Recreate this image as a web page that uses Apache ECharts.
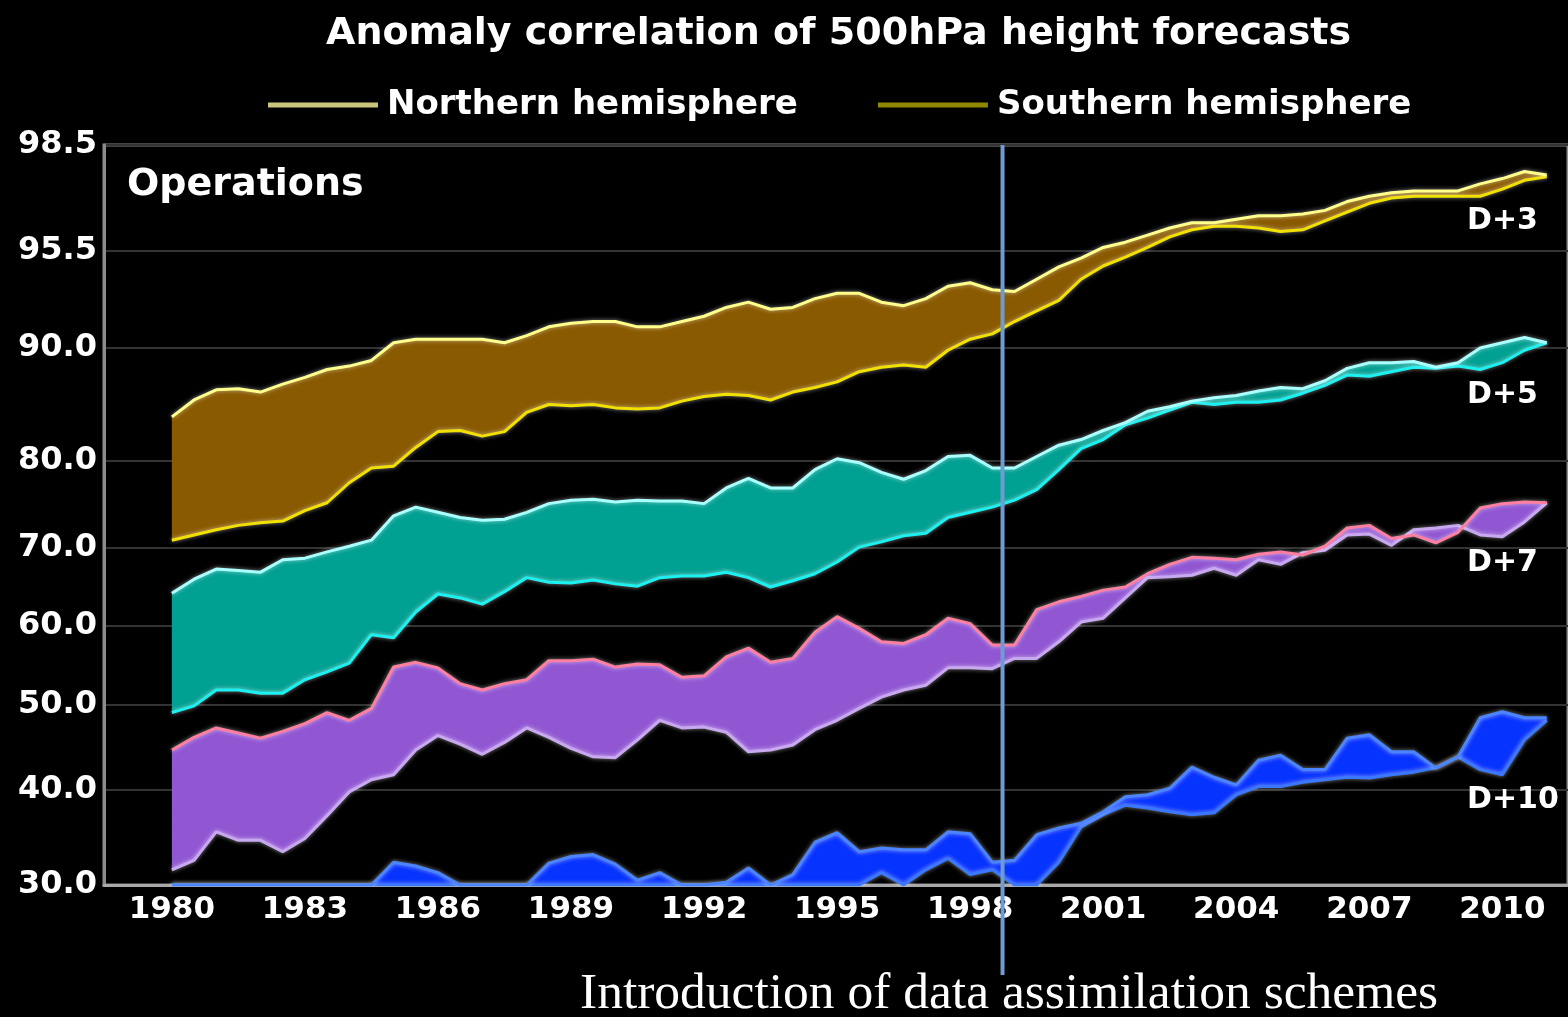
<!DOCTYPE html>
<html>
<head>
<meta charset="utf-8">
<title>Anomaly correlation of 500hPa height forecasts</title>
<script src="https://cdn.jsdelivr.net/npm/echarts@6/dist/echarts.min.js"></script>
<style>
  html, body { margin: 0; padding: 0; background: #000; }
  #chart { width: 1568px; height: 1017px; }
</style>
</head>
<body>
<div id="chart"></div>
<script>
// Sampling dates (half-year steps) for every curve
const YEARS = [
  1980.0, 1980.5, 1981.0, 1981.5, 1982.0, 1982.5, 1983.0, 1983.5, 1984.0, 1984.5,
  1985.0, 1985.5, 1986.0, 1986.5, 1987.0, 1987.5, 1988.0, 1988.5, 1989.0, 1989.5,
  1990.0, 1990.5, 1991.0, 1991.5, 1992.0, 1992.5, 1993.0, 1993.5, 1994.0, 1994.5,
  1995.0, 1995.5, 1996.0, 1996.5, 1997.0, 1997.5, 1998.0, 1998.5, 1999.0, 1999.5,
  2000.0, 2000.5, 2001.0, 2001.5, 2002.0, 2002.5, 2003.0, 2003.5, 2004.0, 2004.5,
  2005.0, 2005.5, 2006.0, 2006.5, 2007.0, 2007.5, 2008.0, 2008.5, 2009.0, 2009.5,
  2010.0, 2010.5, 2011.0
];

// Vertical axis: labelled values and where they sit on the stretched scale
const TICK_VALUES = [30, 40, 50, 60, 70, 80, 90, 95.5, 98.5];
const TICK_LABELS = ['30.0', '40.0', '50.0', '60.0', '70.0', '80.0', '90.0', '95.5', '98.5'];
const SCALE_STOPS = [0, 95, 180, 259, 337, 424, 537, 634, 740];

const X_LABELS = [1980, 1983, 1986, 1989, 1992, 1995, 1998, 2001, 2004, 2007, 2010];
const INTRO_YEAR = 1998.73;

// Anomaly correlation (%) — day 3
const D3_NH = [
  83.9, 85.4, 86.3, 86.4, 86.1, 86.8, 87.4, 88.1, 88.4, 88.9,
  90.3, 90.5, 90.5, 90.5, 90.5, 90.3, 90.7, 91.2, 91.4, 91.5,
  91.5, 91.2, 91.2, 91.5, 91.8, 92.3, 92.6, 92.2, 92.3, 92.8,
  93.1, 93.1, 92.6, 92.4, 92.8, 93.5, 93.7, 93.3, 93.2, 93.9,
  94.6, 95.1, 95.6, 95.75, 95.95, 96.15, 96.3, 96.3, 96.4, 96.5,
  96.5, 96.55, 96.65, 96.9, 97.05, 97.15, 97.2, 97.2, 97.2, 97.4,
  97.55, 97.75, 97.65
];
const D3_SH = [
  70.9, 71.5, 72.1, 72.6, 72.9, 73.1, 74.3, 75.2, 77.5, 79.2,
  79.4, 81.2, 82.6, 82.7, 82.2, 82.6, 84.3, 85.0, 84.9, 85.0,
  84.7, 84.6, 84.7, 85.3, 85.7, 85.9, 85.8, 85.4, 86.1, 86.5,
  87.0, 87.9, 88.3, 88.5, 88.3, 89.8, 90.5, 90.8, 91.5, 92.1,
  92.7, 93.9, 94.65, 95.15, 95.6, 95.9, 96.1, 96.2, 96.2, 96.15,
  96.05, 96.1, 96.35, 96.6, 96.85, 97.0, 97.05, 97.05, 97.05, 97.05,
  97.25, 97.5, 97.6
];

// Day 5
const D5_NH = [
  64.2, 66.0, 67.3, 67.1, 66.9, 68.5, 68.7, 69.5, 70.2, 70.9,
  73.7, 74.7, 74.1, 73.5, 73.2, 73.3, 74.1, 75.1, 75.5, 75.6,
  75.3, 75.5, 75.4, 75.4, 75.1, 76.9, 78.0, 76.9, 76.9, 79.0,
  80.2, 79.8, 78.7, 77.9, 78.9, 80.4, 80.5, 79.2, 79.2, 80.4,
  81.4, 81.9, 82.7, 83.4, 84.4, 84.8, 85.3, 85.6, 85.8, 86.2,
  86.5, 86.4, 87.1, 88.2, 88.7, 88.7, 88.8, 88.3, 88.7, 90.0,
  90.3, 90.6, 90.3
];
const D5_SH = [
  49.1, 49.9, 51.9, 51.9, 51.5, 51.5, 53.2, 54.2, 55.3, 58.9,
  58.5, 61.8, 64.1, 63.6, 62.8, 64.4, 66.2, 65.6, 65.5, 65.9,
  65.4, 65.1, 66.2, 66.4, 66.4, 66.9, 66.2, 65.0, 65.8, 66.7,
  68.2, 70.1, 70.7, 71.4, 71.7, 73.5, 74.1, 74.7, 75.5, 76.7,
  79.0, 81.1, 81.9, 83.2, 83.8, 84.5, 85.2, 85.0, 85.2, 85.2,
  85.4, 86.0, 86.7, 87.6, 87.5, 87.9, 88.3, 88.2, 88.4, 88.1,
  88.7, 89.8, 90.3
];

// Day 7
const D7_NH = [
  44.7, 46.2, 47.3, 46.7, 46.1, 46.9, 47.8, 49.1, 48.2, 49.6,
  54.8, 55.4, 54.7, 52.7, 51.9, 52.7, 53.2, 55.6, 55.6, 55.8,
  54.8, 55.2, 55.1, 53.5, 53.7, 56.1, 57.2, 55.4, 55.9, 59.2,
  61.2, 59.7, 58.0, 57.8, 58.9, 61.0, 60.3, 57.6, 57.6, 62.1,
  63.1, 63.8, 64.6, 65.0, 66.7, 67.9, 68.8, 68.7, 68.5, 69.2,
  69.5, 69.1, 70.2, 72.3, 72.6, 71.1, 71.5, 70.6, 71.8, 74.6,
  75.1, 75.3, 75.2
];
const D7_SH = [
  31.6, 32.6, 35.6, 34.7, 34.7, 33.5, 34.9, 37.3, 39.8, 41.2,
  41.8, 44.7, 46.4, 45.4, 44.2, 45.6, 47.3, 46.2, 44.9, 43.9,
  43.8, 45.9, 48.2, 47.3, 47.4, 46.8, 44.5, 44.7, 45.3, 47.1,
  48.2, 49.6, 51.0, 51.9, 52.5, 54.7, 54.7, 54.6, 55.9, 55.9,
  58.0, 60.5, 61.0, 63.6, 66.2, 66.3, 66.5, 67.4, 66.5, 68.5,
  67.9, 69.4, 69.7, 71.5, 71.6, 70.3, 72.1, 72.3, 72.6, 71.5,
  71.3, 73.0, 75.2
];

// Day 10 (values at the bottom of the scale sit on the 30 line)
const D10_NH = [
  30, 30, 30, 30, 30, 30, 30, 30, 30, 30,
  32.4, 32.0, 31.3, 30, 30, 30, 30, 32.3, 33.0, 33.2,
  32.2, 30.5, 31.3, 30, 30, 30.3, 31.8, 30, 31.1, 34.5,
  35.5, 33.5, 33.9, 33.7, 33.7, 35.6, 35.4, 32.4, 32.6, 35.3,
  36.0, 36.5, 37.7, 39.3, 39.5, 40.2, 42.7, 41.5, 40.6, 43.5,
  44.1, 42.4, 42.4, 46.1, 46.5, 44.5, 44.5, 42.6, 43.9, 48.5,
  49.2, 48.5, 48.5
];
const D10_SH = [
  30, 30, 30, 30, 30, 30, 30, 30, 30, 30,
  30, 30, 30, 30, 30, 30, 30, 30, 30, 30,
  30, 30, 30, 30, 30, 30, 30, 30, 30, 30,
  30, 30, 31.3, 30, 31.6, 32.8, 31.1, 31.6, 30, 30,
  32.4, 36.1, 37.4, 38.4, 38.1, 37.7, 37.4, 37.6, 39.5, 40.4,
  40.4, 40.9, 41.2, 41.5, 41.4, 41.8, 42.1, 42.6, 43.9, 42.4,
  41.8, 45.9, 48.2
];

const FONT = 'DejaVu Sans';

// Map a correlation value onto the stretched vertical scale
function toScale(v) {
  for (let i = 1; i < TICK_VALUES.length; i++) {
    if (v <= TICK_VALUES[i]) {
      const a = TICK_VALUES[i - 1], b = TICK_VALUES[i];
      return SCALE_STOPS[i - 1] + (v - a) / (b - a) * (SCALE_STOPS[i] - SCALE_STOPS[i - 1]);
    }
  }
  return SCALE_STOPS[SCALE_STOPS.length - 1];
}

const BANDS = [
  { label: 'D+3',  nh: D3_NH,  sh: D3_SH,  fill: '#8a5a00', nhColor: '#ffff8c', shColor: '#f2e100' },
  { label: 'D+5',  nh: D5_NH,  sh: D5_SH,  fill: '#00a092', nhColor: '#aaffff', shColor: '#1cf0f0' },
  { label: 'D+7',  nh: D7_NH,  sh: D7_SH,  fill: '#9157d3', nhColor: '#ff7fa0', shColor: '#c9a8f2' },
  { label: 'D+10', nh: D10_NH, sh: D10_SH, fill: '#0733ff', nhColor: '#4a85ff', shColor: '#3a78ff' }
];

// Filled area between the two hemisphere curves of one forecast range
function bandFill(band) {
  const pts = YEARS.map((y, i) => [y, toScale(band.nh[i]), toScale(band.sh[i])]);
  return {
    type: 'custom',
    name: band.label + ' spread',
    data: [[YEARS[0], 0]],
    z: 1,
    silent: true,
    clip: true,
    renderItem: function (params, api) {
      const upper = pts.map(p => api.coord([p[0], p[1]]));
      const lower = pts.map(p => api.coord([p[0], p[2]])).reverse();
      return {
        type: 'polygon',
        shape: { points: upper.concat(lower) },
        style: { fill: band.fill }
      };
    }
  };
}

function curve(name, values, color) {
  return {
    type: 'line',
    name: name,
    data: YEARS.map((y, i) => [y, toScale(values[i])]),
    symbol: 'none',
    showSymbol: false,
    z: 3,
    clip: true,
    lineStyle: {
      color: color,
      width: 3,
      shadowBlur: 4,
      shadowColor: 'rgba(255,255,255,0.55)'
    },
    itemStyle: { color: color }
  };
}

const series = [];
BANDS.forEach(b => series.push(bandFill(b)));
BANDS.forEach((b, k) => {
  const nhName = k === 0 ? 'Northern hemisphere' : b.label + ' Northern hemisphere';
  const shName = k === 0 ? 'Southern hemisphere' : b.label + ' Southern hemisphere';
  series.push(curve(shName, b.sh, b.shColor));
  series.push(curve(nhName, b.nh, b.nhColor));
});

const chart = echarts.init(document.getElementById('chart'), null, { renderer: 'canvas' });

const option = {
  backgroundColor: '#000',
  animation: false,
  textStyle: { fontFamily: FONT },
  title: {
    text: 'Anomaly correlation of 500hPa height forecasts',
    left: 326,
    top: 15,
    padding: 0,
    textStyle: { color: '#fff', fontSize: 38, fontWeight: 'bold', fontFamily: FONT }
  },
  legend: {
    left: 268,
    top: 88,
    padding: 0,
    itemWidth: 110,
    itemHeight: 5,
    itemGap: 80,
    icon: 'rect',
    selectedMode: false,
    textStyle: { color: '#fff', fontSize: 34, fontWeight: 'bold', fontFamily: FONT, padding: [0, 0, 0, 4] },
    data: [
      { name: 'Northern hemisphere', itemStyle: { color: '#cbc47c' } },
      { name: 'Southern hemisphere', itemStyle: { color: '#8f8700' } }
    ]
  },
  grid: {
    left: 104,
    right: -4,
    top: 145,
    bottom: 132,
    show: true,
    borderColor: '#8c8c8c',
    borderWidth: 3,
    backgroundColor: 'transparent',
    containLabel: false
  },
  xAxis: {
    type: 'value',
    min: 1978.47,
    max: 2011.48,
    axisLine: { show: true, lineStyle: { color: '#a8a8a8', width: 3 } },
    axisTick: { show: false },
    splitLine: { show: false },
    axisLabel: {
      customValues: X_LABELS,
      color: '#fff',
      fontSize: 31,
      fontWeight: 'bold',
      fontFamily: FONT,
      margin: 9,
      formatter: v => String(v)
    }
  },
  yAxis: {
    type: 'value',
    min: 0,
    max: SCALE_STOPS[SCALE_STOPS.length - 1],
    axisLine: { show: true, lineStyle: { color: '#8c8c8c', width: 3 } },
    axisTick: { show: false, customValues: SCALE_STOPS },
    splitLine: { show: true, lineStyle: { color: '#333', width: 2 } },
    axisLabel: {
      customValues: SCALE_STOPS,
      color: '#fff',
      fontSize: 32,
      fontWeight: 'bold',
      fontFamily: FONT,
      margin: 7,
      formatter: v => TICK_LABELS[SCALE_STOPS.indexOf(v)]
    }
  },
  series: series
};

chart.setOption(option);

// Text and marker overlays
const introX = chart.convertToPixel({ xAxisIndex: 0 }, INTRO_YEAR);
const labelStyle = { fill: '#fff', font: 'bold 30px "DejaVu Sans"', verticalAlign: 'middle' };
chart.setOption({
  graphic: [
    {
      type: 'text', left: 127, top: 166, z: 10,
      style: { text: 'Operations', fill: '#fff', font: 'bold 38px "DejaVu Sans"' }
    },
    { type: 'text', x: 1467, y: 221, z: 10, style: Object.assign({ text: 'D+3' }, labelStyle) },
    { type: 'text', x: 1467, y: 395, z: 10, style: Object.assign({ text: 'D+5' }, labelStyle) },
    { type: 'text', x: 1467, y: 563, z: 10, style: Object.assign({ text: 'D+7' }, labelStyle) },
    { type: 'text', x: 1467, y: 800, z: 10, style: Object.assign({ text: 'D+10' }, labelStyle) },
    {
      type: 'line', z: 20,
      shape: { x1: introX, y1: 145, x2: introX, y2: 975 },
      style: { stroke: '#6f9bd1', lineWidth: 4 }
    },
    {
      type: 'text', x: 580, y: 995, z: 20, scaleX: 1.03,
      style: {
        text: 'Introduction of data assimilation schemes',
        fill: '#fff',
        font: '50px "Liberation Serif"',
        verticalAlign: 'middle'
      }
    }
  ]
});
</script>
</body>
</html>
